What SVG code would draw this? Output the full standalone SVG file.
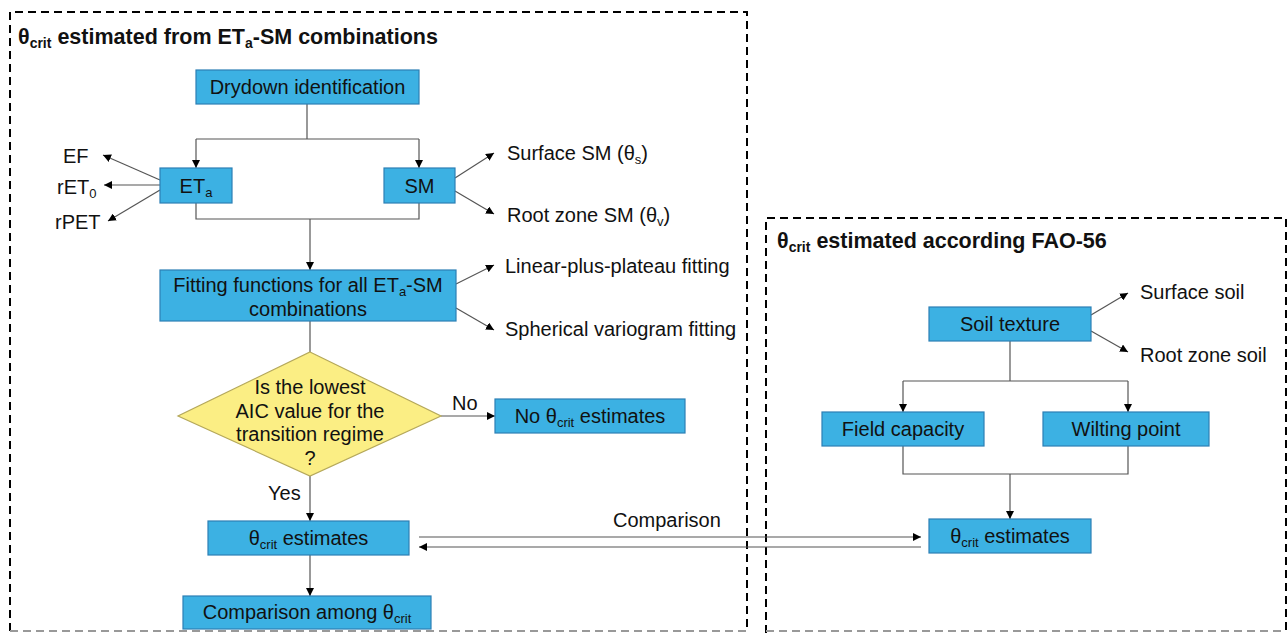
<svg xmlns="http://www.w3.org/2000/svg" width="1288" height="633" viewBox="0 0 1288 633">
<defs>
<marker id="ah" viewBox="0 0 10 10" refX="10" refY="5" markerWidth="8" markerHeight="8" markerUnits="userSpaceOnUse" orient="auto">
<path d="M0,0 L10,5 L0,10 z" fill="#000"/>
</marker>
<style>
text{font-family:"Liberation Sans",Arial,sans-serif;fill:#111;}
.t{font-size:20px;}
.title{font-size:21.5px;font-weight:bold;}
.box{fill:#3cb1e3;stroke:#2c7fb5;stroke-width:1.2;}
.dia{fill:#fbee84;stroke:#b5a85a;stroke-width:1.2;}
.frame{fill:none;stroke:#000;stroke-width:2;stroke-dasharray:8 5;}
.frameb{fill:none;stroke:#999;stroke-width:2;stroke-dasharray:8 5;}
.c{fill:none;stroke:#555;stroke-width:1.2;}
.ca{fill:none;stroke:#555;stroke-width:1.2;marker-end:url(#ah);}
</style>
</defs>
<rect width="1288" height="633" fill="#fff"/>

<g id="frames">
<path class="frame" d="M10,631 L10,12 L747,12 L747,631"/>
<path class="frameb" d="M10,631 L747,631"/>
<path class="frame" d="M766,633 L766,218 L1286,218 L1286,633"/>
<path class="frameb" d="M766,631 L1286,631"/>
<text class="title" x="18" y="44">θ<tspan font-size="14" dy="4">crit</tspan><tspan dy="-4"> estimated from ET</tspan><tspan font-size="14" dy="4">a</tspan><tspan dy="-4">-SM combinations</tspan></text>
<text class="title" x="777" y="248">θ<tspan font-size="14" dy="4">crit</tspan><tspan dy="-4"> estimated according FAO-56</tspan></text>
</g>

<g id="connectors">
<path class="c" d="M307,104 V139 M196,139 H419"/>
<path class="ca" d="M196,139 V168"/>
<path class="ca" d="M419,139 V168"/>
<path class="ca" d="M160,180 L103,155"/>
<path class="ca" d="M160,185 L104,185"/>
<path class="ca" d="M160,190 L108,221"/>
<path class="ca" d="M455,178 L494,153"/>
<path class="ca" d="M455,191 L494,214"/>
<path class="c" d="M196,203 V219 H419 V203"/>
<path class="ca" d="M310,219 V270"/>
<path class="ca" d="M456,284 L494,265"/>
<path class="ca" d="M456,308 L494,330"/>
<path class="c" d="M310,321 V352"/>
<path class="ca" d="M441,416 H495"/>
<path class="ca" d="M310,476 V521"/>
<path class="ca" d="M310,555 V596"/>
<path class="ca" d="M419,537 H921"/>
<path class="ca" d="M921,547 H419"/>
<path class="ca" d="M1091,315 L1128,293"/>
<path class="ca" d="M1091,331 L1128,352"/>
<path class="c" d="M1010,341 V381 M903,381 H1128"/>
<path class="ca" d="M903,381 V412"/>
<path class="ca" d="M1128,381 V412"/>
<path class="c" d="M903,446 V474 H1128 V446"/>
<path class="ca" d="M1010,474 V519"/>
<text class="t" x="268" y="500">Yes</text>
<text class="t" x="452" y="410">No</text>
<text class="t" x="613" y="527">Comparison</text>
</g>

<g id="drydown">
<rect class="box" x="196" y="70" width="223" height="34"/>
<text class="t" x="307.5" y="94" text-anchor="middle">Drydown identification</text>
</g>
<g id="eta">
<rect class="box" x="160" y="168" width="72" height="35"/>
<text class="t" x="196" y="193" text-anchor="middle">ET<tspan font-size="13" dy="4">a</tspan></text>
</g>
<g id="sm">
<rect class="box" x="384" y="168" width="71" height="35"/>
<text class="t" x="419.5" y="193" text-anchor="middle">SM</text>
</g>
<g id="ef"><text class="t" x="63" y="163">EF</text></g>
<g id="ret0"><text class="t" x="57" y="194">rET<tspan font-size="13" dy="4">0</tspan></text></g>
<g id="rpet"><text class="t" x="55" y="229">rPET</text></g>
<g id="surface-sm"><text class="t" x="507" y="160">Surface SM (θ<tspan font-size="13" dy="4">s</tspan><tspan dy="-4">)</tspan></text></g>
<g id="root-sm"><text class="t" x="507" y="222">Root zone SM (θ<tspan font-size="13" dy="4">v</tspan><tspan dy="-4">)</tspan></text></g>
<g id="fitting">
<rect class="box" x="160" y="270" width="296" height="51"/>
<text class="t" x="308" y="292" text-anchor="middle">Fitting functions for all ET<tspan font-size="13" dy="4">a</tspan><tspan dy="-4">-SM</tspan></text>
<text class="t" x="308" y="316" text-anchor="middle">combinations</text>
</g>
<g id="linear"><text class="t" x="505" y="273">Linear-plus-plateau fitting</text></g>
<g id="spherical"><text class="t" x="505" y="336">Spherical variogram fitting</text></g>
<g id="decision">
<polygon class="dia" points="310,352 441,416 310,476 178,416"/>
<text class="t" x="310" y="394" text-anchor="middle">Is the lowest</text>
<text class="t" x="310" y="418" text-anchor="middle">AIC value for the</text>
<text class="t" x="310" y="441" text-anchor="middle">transition regime</text>
<text class="t" x="310" y="465" text-anchor="middle">?</text>
</g>
<g id="no-estimates">
<rect class="box" x="495" y="399" width="190" height="34"/>
<text class="t" x="590" y="423" text-anchor="middle">No θ<tspan font-size="13" dy="4">crit</tspan><tspan dy="-4"> estimates</tspan></text>
</g>
<g id="estimates-left">
<rect class="box" x="208" y="521" width="201" height="34"/>
<text class="t" x="308.5" y="545" text-anchor="middle">θ<tspan font-size="13" dy="4">crit</tspan><tspan dy="-4"> estimates</tspan></text>
</g>
<g id="comparison-among">
<rect class="box" x="183" y="596" width="248" height="33"/>
<text class="t" x="307" y="619" text-anchor="middle">Comparison among θ<tspan font-size="13" dy="4">crit</tspan></text>
</g>

<g id="soil-texture">
<rect class="box" x="929" y="307" width="162" height="34"/>
<text class="t" x="1010" y="331" text-anchor="middle">Soil texture</text>
</g>
<g id="surface-soil"><text class="t" x="1140" y="299">Surface soil</text></g>
<g id="root-soil"><text class="t" x="1140" y="362">Root zone soil</text></g>
<g id="field-capacity">
<rect class="box" x="822" y="412" width="162" height="34"/>
<text class="t" x="903" y="436" text-anchor="middle">Field capacity</text>
</g>
<g id="wilting-point">
<rect class="box" x="1043" y="412" width="166" height="34"/>
<text class="t" x="1126" y="436" text-anchor="middle">Wilting point</text>
</g>
<g id="estimates-right">
<rect class="box" x="929" y="519" width="162" height="34"/>
<text class="t" x="1010" y="543" text-anchor="middle">θ<tspan font-size="13" dy="4">crit</tspan><tspan dy="-4"> estimates</tspan></text>
</g>
</svg>
